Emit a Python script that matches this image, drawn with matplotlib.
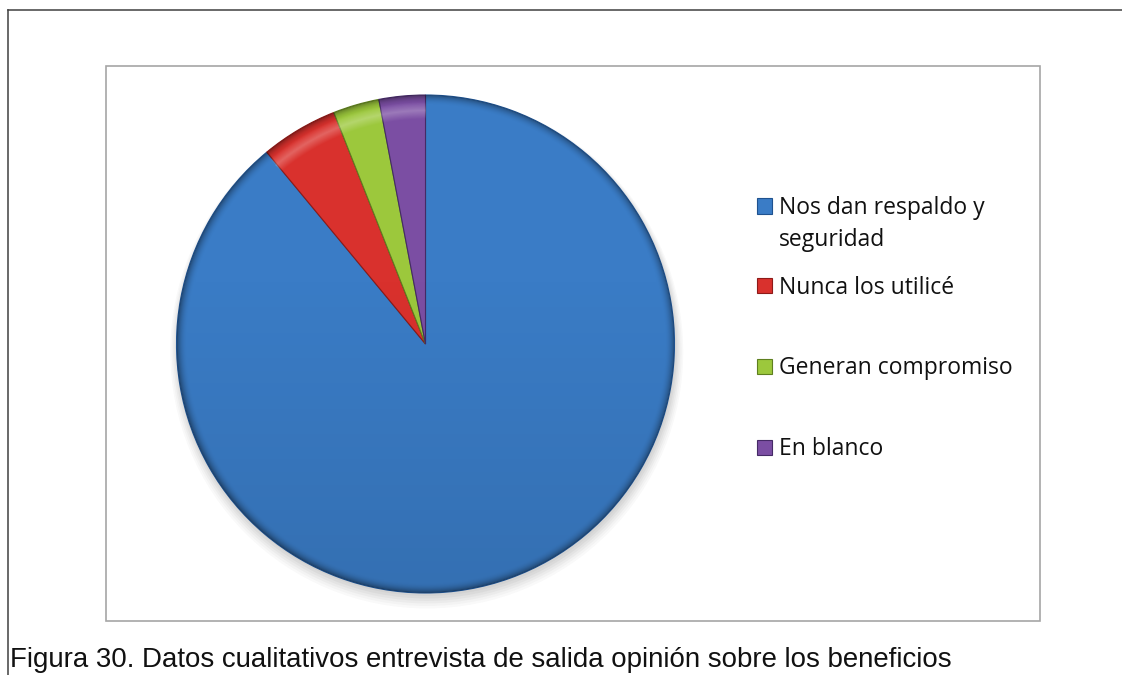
import numpy as np
import matplotlib.pyplot as plt
from matplotlib.patches import Rectangle, Circle

categories = ["Nos dan respaldo y\nseguridad", "Nunca los utilicé",
              "Generan compromiso", "En blanco"]
values = [89, 5, 3, 3]
colors = ["#3a7cc6", "#d9312d", "#9cc83c", "#7b4ea3"]
edges = ["#1f528f", "#8e1a18", "#5e7f1f", "#452a66"]
caption = "Figura 30. Datos cualitativos entrevista de salida opinión sobre los beneficios"

W, H = 1122, 675
fig = plt.figure(figsize=(W / 100, H / 100), dpi=100)


def fx(px):
    return px / W


def fy(py):
    return 1 - py / H


# outer frame (top and left only)
fig.add_artist(plt.Line2D([fx(8), 1], [fy(10), fy(10)], color="#404040", lw=1.1))
fig.add_artist(plt.Line2D([fx(8), fx(8)], [fy(10), 0], color="#404040", lw=1.1))

# chart area box
fig.add_artist(Rectangle((fx(106), fy(621)), fx(1040 - 106), (621 - 66) / H,
                         fill=False, ec="#a6a6a6", lw=1.2))

# pie
cx, cy, r = 425.5, 344, 249
ax = fig.add_axes([fx(cx - r), fy(cy + r), 2 * r / W, 2 * r / H])

# soft shadow under the pie
for k, a in zip(range(6), [0.05, 0.05, 0.04, 0.04, 0.03, 0.03]):
    ax.add_patch(Circle((0.005, -0.012 - k * 0.004), 1.0 + k * 0.006,
                        color="#404040", alpha=a, lw=0, zorder=0, clip_on=False))

wedges, _ = ax.pie(values, colors=colors, startangle=90, counterclock=False,
                   radius=1.0, wedgeprops=dict(lw=0.8))
for w, ec in zip(wedges, edges):
    w.set_edgecolor(ec)
    w.set_zorder(2)
    w.set_clip_on(False)

# bevel-style shading: darker toward the bottom and rim
n = 500
yy, xx = np.mgrid[1:-1:n * 1j, -1:1:n * 1j]
rr = np.sqrt(xx ** 2 + yy ** 2)
alpha = 0.10 * np.clip((0.3 - yy) / 1.3, 0, 1) + 0.35 * np.clip((rr - 0.96) / 0.04, 0, 1) ** 2
shade = np.zeros((n, n, 4))
shade[..., 3] = np.clip(alpha, 0, 1)
im = ax.imshow(shade, extent=(-1, 1, -1, 1), zorder=3, interpolation="bilinear")
im.set_clip_path(Circle((0, 0), 0.999, transform=ax.transData))

# light highlight along the outer edge of the small slices
hl = np.zeros((n, n, 4))
hl[..., :3] = 1.0
ang = np.degrees(np.arctan2(xx, yy))
hl[..., 3] = 0.25 * np.clip(1 - np.abs(rr - 0.94) / 0.035, 0, 1) * ((ang < 0) & (ang > -40))
im2 = ax.imshow(hl, extent=(-1, 1, -1, 1), zorder=4, interpolation="bilinear")
im2.set_clip_path(Circle((0, 0), 0.999, transform=ax.transData))
ax.set_xlim(-1, 1)
ax.set_ylim(-1, 1)
ax.axis("off")

# legend, one baseline per text line
font = "Open Sans"
baselines = [214, 294, 374, 455]
for cat, col, ec, yb in zip(categories, colors, edges, baselines):
    ym = yb - 8
    fig.add_artist(Rectangle((fx(757), fy(ym + 7.5)), fx(15), 15 / H,
                             fc=col, ec=ec, lw=0.8))
    for i, line in enumerate(cat.split("\n")):
        fig.text(fx(779), fy(yb + 32 * i), line, family=font, fontsize=16.5,
                 color="#111111", va="baseline", ha="left")

# caption
fig.text(fx(10), fy(667), caption, family="Liberation Sans", fontsize=19.9,
         color="#111111", ha="left", va="baseline")

fig.savefig("out.png", dpi=100)
